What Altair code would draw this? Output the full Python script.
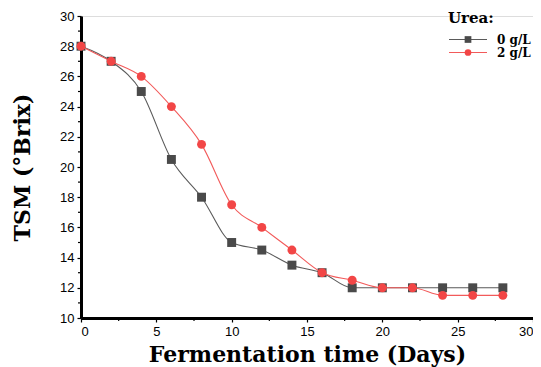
import altair as alt
import pandas as pd

days = [0, 2, 4, 6, 8, 10, 12, 14, 16, 18, 20, 22, 24, 26, 28]
urea0 = [28, 27, 25, 20.5, 18, 15, 14.5, 13.5, 13, 12, 12, 12, 12, 12, 12]
urea2 = [28, 27, 26, 24, 21.5, 17.5, 16, 14.5, 13, 12.5, 12, 12, 11.5, 11.5, 11.5]
series_labels = ["0 g/L", "2 g/L"]
series_colors = ["#4a4a4a", "#f24646"]
line_colors = ["#5a5a5a", "#f25a5a"]
x_major = [0, 5, 10, 15, 20, 25, 30]
x_minor = [2.5, 7.5, 12.5, 17.5, 22.5, 27.5]
y_major = [10, 12, 14, 16, 18, 20, 22, 24, 26, 28, 30]
y_minor = [11, 13, 15, 17, 19, 21, 23, 25, 27, 29]

W, H = 452, 302

df0 = pd.DataFrame({"day": days, "tsm": urea0})
df2 = pd.DataFrame({"day": days, "tsm": urea2})

xs = alt.Scale(domain=[0, 30], nice=False)
ys = alt.Scale(domain=[10, 30], nice=False)

axis_common = dict(
    domainColor="black", domainWidth=3, tickColor="black", tickSize=4, tickWidth=1.2,
    labelFont="Liberation Sans", labelFontSize=13, labelColor="black", grid=False,
    titleFont="DejaVu Serif", titleFontWeight="bold", titleFontSize=22, titleColor="black",
)

xaxis = alt.Axis(values=x_major, labelPadding=3, title="Fermentation time (Days)", titlePadding=6, **axis_common)
yaxis = alt.Axis(values=y_major, labelPadding=3, title="TSM (°Brix)", titlePadding=25, **axis_common)

def series(df, lc, mc, shape):
    base = alt.Chart(df)
    line = base.mark_line(interpolate="monotone", color=lc, strokeWidth=1.1).encode(
        x=alt.X("day:Q", scale=xs, axis=xaxis), y=alt.Y("tsm:Q", scale=ys, axis=yaxis))
    pts = base.mark_point(shape=shape, filled=True, color=mc, size=80, opacity=1).encode(
        x=alt.X("day:Q", scale=xs, axis=xaxis), y=alt.Y("tsm:Q", scale=ys, axis=yaxis))
    return line + pts

s0 = series(df0, line_colors[0], series_colors[0], "square")
s2 = series(df2, line_colors[1], series_colors[1], "circle")

xmin_df = pd.DataFrame({"day": x_minor})
ymin_df = pd.DataFrame({"tsm": y_minor})
xminor = alt.Chart(xmin_df).mark_rule(color="black", strokeWidth=1.2).encode(
    x=alt.X("day:Q", scale=xs, axis=xaxis), y=alt.value(H), y2=alt.value(H + 3))
yminor = alt.Chart(ymin_df).mark_rule(color="black", strokeWidth=1.2).encode(
    y=alt.Y("tsm:Q", scale=ys, axis=yaxis), x=alt.value(0), x2=alt.value(-3))

# manual legend
leg_title = alt.Chart(pd.DataFrame({"t": ["Urea:"]})).mark_text(
    font="DejaVu Serif", fontWeight="bold", fontSize=15, align="left", baseline="middle", color="black"
).encode(x=alt.value(367), y=alt.value(1.5), text="t:N")

leg_layers = []
for i, (lab, lc, mc, shp) in enumerate(zip(series_labels, line_colors, series_colors, ["square", "circle"])):
    yy = 23.5 + i * 13
    d = pd.DataFrame({"t": [lab]})
    leg_layers.append(alt.Chart(d).mark_rule(color=lc, strokeWidth=1.2).encode(
        x=alt.value(368), x2=alt.value(406), y=alt.value(yy)))
    leg_layers.append(alt.Chart(d).mark_point(shape=shp, filled=True, color=mc, size=45, opacity=1).encode(
        x=alt.value(387), y=alt.value(yy)))
    leg_layers.append(alt.Chart(d).mark_text(
        font="DejaVu Serif", fontWeight="bold", fontSize=12, align="left", baseline="middle", color="black"
    ).encode(x=alt.value(416), y=alt.value(yy), text="t:N"))

chart = alt.layer(s0, s2, xminor, yminor, leg_title, *leg_layers).properties(
    width=W, height=H,
    autosize=alt.AutoSizeParams(type="none"),
    padding={"left": 73, "top": 8, "right": 0, "bottom": 50},
).configure_view(stroke=None).configure(background="white")

chart.save("out.html", embed_options={"renderer": "svg", "actions": False})
